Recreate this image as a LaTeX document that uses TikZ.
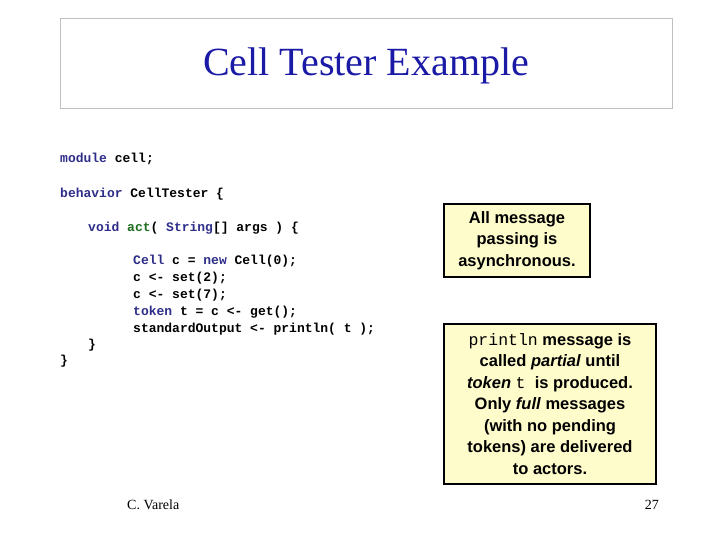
\documentclass[tikz,border=0pt]{standalone}
\usepackage{fontspec}
\setmainfont{Liberation Serif}
\setsansfont{Liberation Sans}
\setmonofont{Liberation Mono}
\begin{document}
\begin{tikzpicture}[x=1pt,y=-1pt,
  code/.style={anchor=base west,inner sep=0,font=\ttfamily\bfseries\fontsize{13}{17}\selectfont},
  note/.style={draw=black,line width=2pt,fill=yellow!20,inner sep=0,font=\sffamily\bfseries\fontsize{16.5}{21.5}\selectfont,align=center}]
\definecolor{kw}{HTML}{2E2E8A}
\definecolor{gr}{HTML}{1E6E1E}
\definecolor{tt}{HTML}{1A1AA6}
\useasboundingbox (0,0) rectangle (720,540);
\fill[white] (0,0) rectangle (720,540);
\node[draw=black!25,minimum width=612,minimum height=90,anchor=north west,inner sep=0] (title) at (60,18) {};
\node[text=tt,font=\fontsize{40}{44}\selectfont] (tl) at (366,66) {Cell Tester Example};
\node[code] (l1) at (60,163) {\textcolor{kw}{module} cell;};
\node[code] (l2) at (60,197) {\textcolor{kw}{behavior} CellTester \{};
\node[code] (l3) at (88,231) {\textcolor{kw}{void} \textcolor{gr}{act}( \textcolor{kw}{String}[] args ) \{};
\node[code] (l4) at (133,264) {\textcolor{kw}{Cell} c = \textcolor{kw}{new} Cell(0);};
\node[code] (l5) at (133,281) {c <- set(2);};
\node[code] (l6) at (133,298) {c <- set(7);};
\node[code] (l7) at (133,315) {\textcolor{kw}{token} t = c <- get();};
\node[code] (l8) at (133,332) {standardOutput <- println( t );};
\node[code] (l9) at (88,348) {\}};
\node[code] (l10) at (60,364) {\}};
\node[note,minimum width=146,minimum height=73,anchor=north west] (n1) at (443,203) {All message\\passing is\\asynchronous.};
\node[note,minimum width=212,minimum height=160,anchor=north west] (n2) at (443,323)
 {{\ttfamily\mdseries println} message is\\called \textit{partial} until\\\textit{token} {\ttfamily\mdseries t} \ is produced.\\Only \textit{full} messages\\(with no pending\\tokens) are delivered\\to actors.};
\node[font=\fontsize{14}{16}\selectfont,anchor=base west,inner sep=0] (f1) at (127,509) {C. Varela};
\node[font=\fontsize{14}{16}\selectfont,anchor=base east,inner sep=0] (f2) at (659,509) {27};
\end{tikzpicture}
\end{document}
